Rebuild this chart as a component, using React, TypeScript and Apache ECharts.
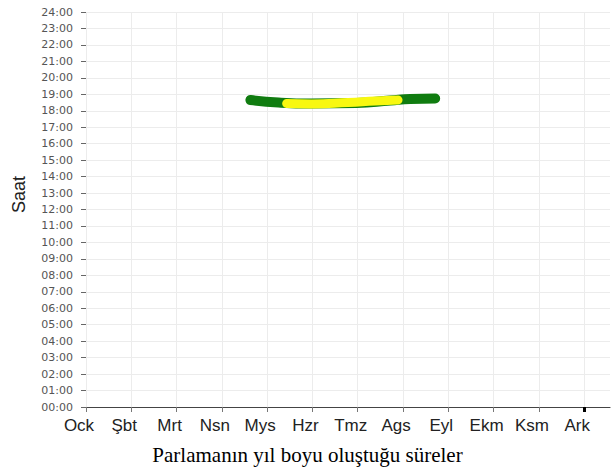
import React, { useEffect, useRef } from "react";
import * as echarts from "echarts";

const months = ["Ock", "Şbt", "Mrt", "Nsn", "Mys", "Hzr", "Tmz", "Ags", "Eyl", "Ekm", "Ksm", "Ark"];
// [month position, hour of day]
const greenBand: [number, number][] = [
  [3.63, 18.65], [4.25, 18.5], [4.98, 18.44], [5.97, 18.47], [6.72, 18.62], [7.16, 18.71], [7.71, 18.74],
];
const yellowBand: [number, number][] = [
  [4.43, 18.44], [4.98, 18.41], [5.79, 18.5], [6.39, 18.59], [6.89, 18.65],
];
const yAxisName = "Saat";
const caption = "Parlamanın yıl boyu oluştuğu süreler";

export default function App() {
  const ref = useRef<HTMLDivElement>(null);
  useEffect(() => {
    if (!ref.current) return;
    const chart = echarts.init(ref.current, null, { renderer: "svg" });
    const monthTicks = months.map((_, i) => i);
    const xMax = 11.57;
    chart.setOption({
      animation: false,
      backgroundColor: "#ffffff",
      grid: { left: 86, right: 5, top: 12, bottom: 65, containLabel: false },
      xAxis: [
        {
          type: "value",
          min: 0,
          max: xMax,
          interval: 1,
          axisLine: { show: true, lineStyle: { color: "#444", width: 1.2 } },
          axisTick: { show: true, length: 5, customValues: monthTicks, lineStyle: { color: "#777" } },
          axisLabel: {
            customValues: monthTicks,
            formatter: (v: number) => months[Math.round(v)] ?? "",
            fontFamily: "Liberation Sans, Arial, sans-serif",
            fontSize: 17,
            color: "#222",
            margin: 10,
            padding: [0, 14, 0, 0],
          },
          splitLine: { show: true, lineStyle: { color: "#ececec", width: 1 } },
        },
        {
          type: "value",
          position: "bottom",
          min: 0,
          max: xMax,
          interval: 1,
          axisLine: { show: false },
          axisTick: { show: true, length: 5, customValues: [months.length - 1], lineStyle: { color: "#000", width: 3 } },
          axisLabel: { show: false },
          splitLine: { show: false },
        },
      ],
      yAxis: {
        type: "value",
        min: 0,
        max: 24,
        interval: 1,
        name: yAxisName,
        nameLocation: "middle",
        nameGap: 58,
        nameRotate: 90,
        nameTextStyle: {
          fontFamily: "Liberation Sans, Arial, sans-serif",
          fontSize: 18,
          color: "#222",
          padding: [0, 0, 0, 30],
        },
        axisLine: { show: false },
        axisTick: { show: true, length: 5, lineStyle: { color: "#666" } },
        axisLabel: {
          formatter: (v: number) => String(v).padStart(2, "0") + ":00",
          fontFamily: "DejaVu Sans, sans-serif",
          fontSize: 11,
          color: "#555",
          margin: 13,
        },
        splitLine: { show: true, lineStyle: { color: "#ececec", width: 1 } },
      },
      series: [
        {
          type: "line",
          data: greenBand,
          smooth: true,
          symbol: "none",
          lineStyle: { color: "#107c10", width: 10, cap: "round", join: "round" },
          z: 2,
        },
        {
          type: "line",
          data: yellowBand,
          smooth: true,
          symbol: "none",
          lineStyle: { color: "#f8f810", width: 9, cap: "round", join: "round" },
          z: 3,
        },
      ],
      graphic: [
        {
          type: "text",
          left: "center",
          top: 444,
          style: {
            text: caption,
            fontFamily: "Liberation Serif, Times New Roman, serif",
            fontSize: 21,
            fill: "#000",
          },
        },
      ],
    });
    return () => chart.dispose();
  }, []);
  return <div ref={ref} style={{ position: "fixed", left: 0, top: 0, width: 615, height: 472 }} />;
}
